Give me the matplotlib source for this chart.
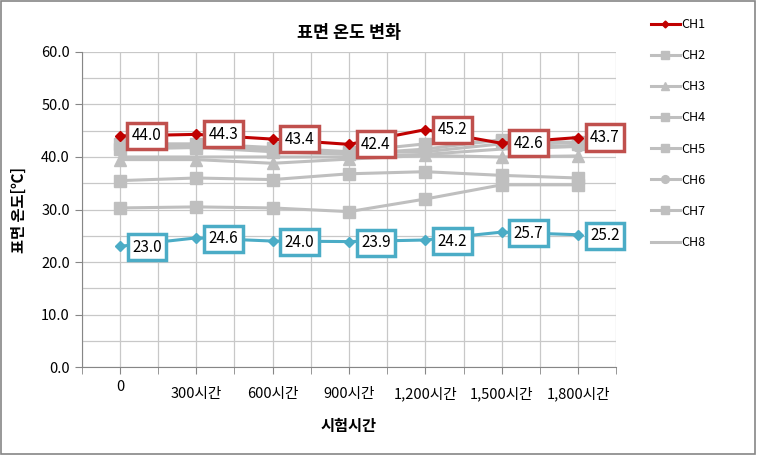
import numpy as np
import matplotlib
matplotlib.use("Agg")
import matplotlib.pyplot as plt
from matplotlib.transforms import ScaledTranslation

plt.rcParams['font.family'] = ['Noto Sans CJK KR', 'DejaVu Sans']

hours = ['0', '300시간', '600시간', '900시간', '1,200시간', '1,500시간', '1,800시간']

ch1 = [44.0, 44.3, 43.4, 42.4, 45.2, 42.6, 43.7]
ch2 = [42.5, 42.5, 41.8, 41.0, 42.5, 43.0, 42.8]
ch3 = [39.5, 39.5, 38.8, 39.6, 40.3, 40.0, 40.2]
ch4 = [41.5, 41.8, 41.0, 40.5, 41.5, 43.3, 42.5]
ch5 = [35.5, 36.0, 35.7, 36.8, 37.2, 36.5, 36.0]
ch6 = [42.0, 42.0, 41.5, 40.8, 41.0, 42.5, 42.0]
ch7 = [30.3, 30.5, 30.3, 29.6, 32.0, 34.7, 34.7]
ch8 = [40.0, 40.0, 40.0, 40.0, 40.5, 41.5, 42.0]
ambient = [23.0, 24.6, 24.0, 23.9, 24.2, 25.7, 25.2]

red = '#C00000'
blue = '#4BACC6'
gray = '#BFBFBF'

fig = plt.figure(figsize=(7.57, 4.55), dpi=100)
ax = fig.add_axes([0.108, 0.193, 0.706, 0.693])
x = np.arange(len(hours))

# gray channels first so red/blue sit on top
grays = [('CH2', ch2, 's'), ('CH3', ch3, '^'), ('CH4', ch4, 's'),
         ('CH5', ch5, 's'), ('CH6', ch6, 'o'), ('CH7', ch7, 's'), ('CH8', ch8, None)]
handles = {}
for name, vals, m in grays:
    h, = ax.plot(x, vals, color=gray, lw=2.2, marker=m, ms=8 if m else 0, zorder=3, label=name)
    handles[name] = h
h1, = ax.plot(x, ch1, color=red, lw=2.2, marker='D', ms=5, zorder=4, label='CH1')
ax.plot(x, ambient, color=blue, lw=2.2, marker='D', ms=5, zorder=4)

for xi, v in zip(x, ch1):
    ax.annotate(f'{v:.1f}', (xi, v), xytext=(27, 0), textcoords='offset pixels',
                ha='center', va='center', fontsize=11, zorder=6,
                bbox=dict(boxstyle='square,pad=0.3', fc='white', ec='#C0504D', lw=2.5))
for xi, v in zip(x, ambient):
    ax.annotate(f'{v:.1f}', (xi, v), xytext=(27, -1), textcoords='offset pixels',
                ha='center', va='center', fontsize=11, zorder=6,
                bbox=dict(boxstyle='square,pad=0.3', fc='white', ec=blue, lw=2.5))

ax.set_xlim(-0.5, 6.5)
ax.set_ylim(0, 60)
ax.set_yticks(np.arange(0, 61, 10))
ax.set_yticklabels([f'{v:.1f}' for v in np.arange(0, 61, 10)], fontsize=10.5)
ax.set_yticks(np.arange(5, 60, 10), minor=True)
ax.set_xticks(x)
ax.set_xticklabels(hours, fontsize=10.5)
ax.set_xticks(np.arange(-0.5, 6.6, 1), minor=True)
ax.tick_params(axis='x', which='both', length=5, color='#868686', pad=9)
ax.tick_params(axis='y', which='major', length=5, color='#868686')
ax.tick_params(axis='y', which='minor', length=0)
ax.grid(True, which='both', color='#C8C8C8', lw=0.9, zorder=0)
ax.set_axisbelow(True)
for s in ['top', 'right']:
    ax.spines[s].set_visible(False)
for s in ['left', 'bottom']:
    ax.spines[s].set_color('#868686')

first = ax.get_xticklabels()[0]
first.set_transform(first.get_transform() + ScaledTranslation(0, 5 / 72, fig.dpi_scale_trans))

ax.set_title('표면 온도 변화', fontsize=12.5, fontweight='bold', pad=10)
ax.set_xlabel('시험시간', fontsize=11, fontweight='bold', labelpad=12)
ax.set_ylabel('표면 온도[℃]', fontsize=11, fontweight='bold', labelpad=10)

order = ['CH1', 'CH2', 'CH3', 'CH4', 'CH5', 'CH6', 'CH7', 'CH8']
handles['CH1'] = h1
fig.legend([handles[k] for k in order], order, loc='upper left',
           bbox_to_anchor=(0.845, 0.985), frameon=False, fontsize=9,
           handlelength=2.3, handletextpad=0.1, labelspacing=1.45, markerscale=0.7)

fig.patches.append(plt.Rectangle((0.001, 0.002), 0.997, 0.996, transform=fig.transFigure,
                                 fill=False, ec='#868686', lw=1.2))
fig.savefig('out.png', dpi=100)
